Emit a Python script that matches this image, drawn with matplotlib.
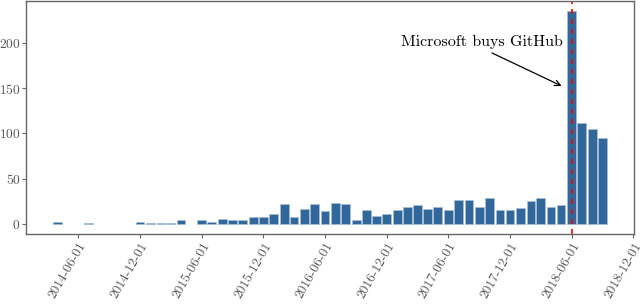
import pandas as pd
import matplotlib
matplotlib.use("Agg")
import matplotlib.pyplot as plt
import matplotlib.dates as mdates

# monthly counts (months with no bar are left out)
months = [
    "2014-04", "2014-07", "2014-12", "2015-01", "2015-02", "2015-03", "2015-04",
    "2015-06", "2015-07", "2015-08", "2015-09", "2015-10", "2015-11", "2015-12",
    "2016-01", "2016-02", "2016-03", "2016-04", "2016-05", "2016-06", "2016-07",
    "2016-08", "2016-09", "2016-10", "2016-11", "2016-12", "2017-01", "2017-02",
    "2017-03", "2017-04", "2017-05", "2017-06", "2017-07", "2017-08", "2017-09",
    "2017-10", "2017-11", "2017-12", "2018-01", "2018-02", "2018-03", "2018-04",
    "2018-05", "2018-06", "2018-07", "2018-08", "2018-09",
]
counts = [
    2, 1, 2, 1, 1, 1, 4,
    5, 2, 6, 5, 5, 8, 8,
    11, 22, 8, 17, 22, 14, 23,
    22, 5, 16, 9, 11, 16, 19,
    21, 17, 19, 15, 26, 27, 19,
    29, 15, 15, 18, 25, 29, 19,
    21, 235, 111, 105, 95,
]
event_date = "2018-06-01"
event_label = "Microsoft buys GitHub"
tick_dates = ["2014-06-01", "2014-12-01", "2015-06-01", "2015-12-01", "2016-06-01",
              "2016-12-01", "2017-06-01", "2017-12-01", "2018-06-01", "2018-12-01"]
y_ticks = [0, 50, 100, 150, 200]

plt.rcParams["font.family"] = "serif"
plt.rcParams["font.serif"] = ["cmr10"]
plt.rcParams["axes.formatter.use_mathtext"] = True

dates = pd.to_datetime([m + "-01" for m in months])

fig = plt.figure(figsize=(6.4, 3.04), dpi=100)
ax = fig.add_axes([0.0406, 0.229, 0.950, 0.7677])

ax.bar(dates, counts, width=26, color="#31679a", edgecolor="#a9c0d6", linewidth=0.5)
ax.axvline(pd.Timestamp(event_date), color="red", linestyle=(0, (3, 3)), linewidth=1.2)

ax.text(pd.Timestamp("2017-09-07"), 201, event_label, fontsize=11.5, ha="center", va="center")
ax.annotate("", xy=(pd.Timestamp("2018-05-10"), 151), xytext=(pd.Timestamp("2017-10-01"), 190),
            arrowprops=dict(arrowstyle="->", color="black", lw=0.9))

ax.set_xlim(pd.Timestamp("2013-12-28"), pd.Timestamp("2018-12-03"))
ax.set_ylim(-11.4, 246)
ax.set_xticks(pd.to_datetime(tick_dates))
ax.xaxis.set_major_formatter(mdates.DateFormatter("%Y-%m-%d"))
ax.set_yticks(y_ticks)

for lbl in ax.get_xticklabels():
    lbl.set_rotation(60)
    lbl.set_ha("right")
    lbl.set_rotation_mode("anchor")

ax.tick_params(axis="both", colors="#666666", labelcolor="#555555", labelsize=9.7,
               length=3, width=0.8, pad=1.0)
for s in ax.spines.values():
    s.set_color("#666666")
    s.set_linewidth(1.0)

fig.savefig("out.png", dpi=100)
